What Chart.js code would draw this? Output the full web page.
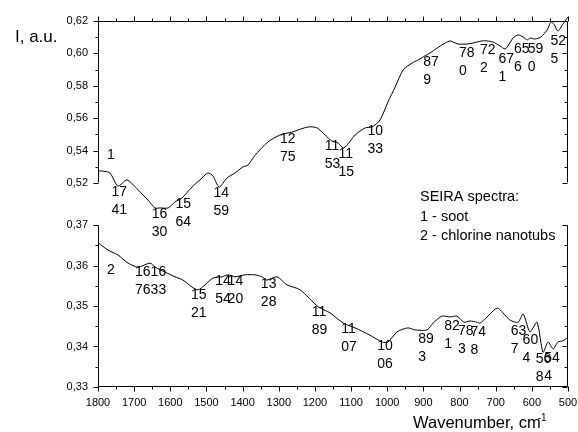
<!DOCTYPE html>
<html><head><meta charset="utf-8">
<script src="https://cdn.jsdelivr.net/npm/chart.js@4.4.0/dist/chart.umd.min.js"></script>
<style>
html,body{margin:0;padding:0;background:#fff;}
#wrap{position:relative;width:578px;height:432px;overflow:hidden;}
canvas{position:absolute;left:0;top:0;}
</style></head><body>
<div id="wrap"><canvas id="cTop" width="578" height="432"></canvas><canvas id="cBot" width="578" height="432"></canvas></div>
<script>
// ---- data ----
const topWave = [1800,1789,1767,1745,1720,1689,1662,1642,1628,1606,1587,1568,1540,1518,1496,1482,1465,1443,1421,1399,1385,1366,1330,1297,1263,1219,1194,1172,1153,1136,1122,1111,1089,1061,1042,1020,998,978,956,931,915,896,882,862,840,826,818,804,779,763,738,724,707,688,674,666,652,638,624,613,605,591,575,558,547,539,528,514,500];
const topVal = [0.5274,0.5274,0.5262,0.5181,0.5219,0.5157,0.5095,0.5046,0.5046,0.5046,0.5083,0.5107,0.5175,0.5219,0.5262,0.5243,0.5175,0.5231,0.5262,0.5299,0.5311,0.5370,0.5453,0.5496,0.5515,0.5546,0.5540,0.5496,0.5459,0.5447,0.5416,0.5435,0.5496,0.5540,0.5546,0.5589,0.5700,0.5793,0.5898,0.5941,0.5959,0.5984,0.6002,0.6033,0.6064,0.6077,0.6070,0.6058,0.6058,0.6064,0.6077,0.6077,0.6070,0.6046,0.6027,0.6046,0.6095,0.6114,0.6101,0.6083,0.6095,0.6089,0.6101,0.6144,0.6194,0.6181,0.6138,0.6181,0.6225];
const botWave = [1800,1772,1745,1717,1689,1656,1642,1615,1587,1565,1540,1523,1504,1482,1457,1440,1421,1393,1366,1346,1333,1305,1277,1241,1191,1158,1122,1089,1048,1014,998,973,943,923,890,873,849,826,807,788,771,752,743,724,696,680,660,638,624,605,586,569,555,541,528,514,500];
const botVal = [0.3656,0.3638,0.3626,0.3606,0.3596,0.3606,0.3596,0.3584,0.3572,0.3564,0.3547,0.3540,0.3552,0.3569,0.3572,0.3577,0.3572,0.3577,0.3577,0.3572,0.3564,0.3572,0.3552,0.3540,0.3498,0.3483,0.3458,0.3446,0.3428,0.3411,0.3411,0.3436,0.3446,0.3441,0.3441,0.3458,0.3475,0.3473,0.3475,0.3460,0.3463,0.3460,0.3458,0.3473,0.3495,0.3483,0.3465,0.3460,0.3480,0.3436,0.3460,0.3386,0.3411,0.3394,0.3411,0.3414,0.3423];

const xTickLabels = [1800,1700,1600,1500,1400,1300,1200,1100,1000,900,800,700,600,500];
const xMinorTicks = [1750,1650,1550,1450,1350,1250,1150,1050,950,850,750,650,550];
const topYTicks = [0.52,0.54,0.56,0.58,0.60,0.62];
const topYMinor = [0.53,0.55,0.57,0.59,0.61];
const botYTicks = [0.33,0.34,0.35,0.36,0.37];
const botYMinor = [0.335,0.345,0.355,0.365];

// peak labels: [line1, line2, wavenumber, intensity]
const topLabels = [
 ['1','',1764,0.5373],
 ['17','41',1741,0.5144],
 ['16','30',1630,0.5009],
 ['15','64',1564,0.5070],
 ['14','59',1459,0.5138],
 ['12','75',1275,0.5472],
 ['11','53',1153,0.5428],
 ['11','15',1115,0.5379],
 ['10','33',1033,0.5521],
 ['87','9',879,0.5947],
 ['78','0',780,0.6002],
 ['72','2',722,0.6021],
 ['67','1',671,0.5965],
 ['65','6',628,0.6027],
 ['59','0',590,0.6027],
 ['52','5',527,0.6077]
];
const botLabels = [
 ['2','',1764,0.3589],
 ['16','76',1676,0.3584],
 ['16','33',1633,0.3584],
 ['15','21',1521,0.3527],
 ['14','54',1454,0.3562],
 ['14','20',1420,0.3562],
 ['13','28',1328,0.3554],
 ['11','89',1189,0.3485],
 ['11','07',1107,0.3443],
 ['10','06',1006,0.3401],
 ['89','3',893,0.3419],
 ['82','1',821,0.3451],
 ['78','3',783,0.3438],
 ['74','8',748,0.3436],
 ['63','7',637,0.3438],
 ['60','4',604,0.3416],
 ['56','8',568,0.3369],
 ['54','4',544,0.3372]
];
const legendLines = ['SEIRA spectra:','1 - soot','2 - chlorine nanotubs'];
const yTitle = 'I, a.u.';
const xTitle = 'Wavenumber, cm';

// ---- drawing ----
const FAM = '"Liberation Sans", Arial, Helvetica, sans-serif';
const fmt = v => v.toFixed(2).replace('.', ',');

function framePlugin(cfg){
  return {id:'frame', afterDatasetsDraw(chart){
    const {ctx, chartArea:a, scales:{x,y}} = chart;
    ctx.save();
    ctx.strokeStyle='#000'; ctx.lineWidth=1;
    const L=Math.round(a.left)+0.5, R=Math.round(a.right)-0.5, T=Math.round(a.top)+0.5, B=Math.round(a.bottom)-0.5;
    ctx.beginPath();
    ctx.moveTo(L,T); ctx.lineTo(L,B);
    ctx.moveTo(R,T); ctx.lineTo(R,B);
    if(cfg.top){ ctx.moveTo(L,T); ctx.lineTo(R,T); }
    if(cfg.bottom){ ctx.moveTo(L,B); ctx.lineTo(R,B); }
    const yt=(vals,len)=>vals.forEach(v=>{const p=Math.round(y.getPixelForValue(v))+0.5; ctx.moveTo(L-len,p); ctx.lineTo(L,p); ctx.moveTo(R,p); ctx.lineTo(R-len,p);});
    yt(cfg.yMajor,5); yt(cfg.yMinor,3);
    const xt=(vals,len)=>vals.forEach(v=>{const p=Math.round(x.getPixelForValue(v))+0.5;
      if(cfg.top){ctx.moveTo(p,T); ctx.lineTo(p,T-len);}
      if(cfg.bottom){ctx.moveTo(p,B); ctx.lineTo(p,B+len);} });
    xt(xTickLabels,5); xt(xMinorTicks,3);
    ctx.stroke();
    ctx.restore();
  }};
}
function labelPlugin(list){
  return {id:'peaklabels', afterDatasetsDraw(chart){
    const {ctx, scales:{x,y}} = chart;
    ctx.save();
    ctx.fillStyle='#000'; ctx.font='14px '+FAM; ctx.textBaseline='middle'; ctx.textAlign='left';
    list.forEach(([t1,t2,w,v])=>{
      const cx=x.getPixelForValue(w), cy=y.getPixelForValue(v);
      const left=cx-ctx.measureText(t1).width/2;
      ctx.fillText(t1,left,cy);
      if(t2) ctx.fillText(t2,left,cy+18);
    });
    ctx.restore();
  }};
}
const textPlugin = {id:'texts', afterDraw(chart){
  const ctx=chart.ctx;
  ctx.save(); ctx.fillStyle='#000'; ctx.textAlign='left';
  ctx.textBaseline='middle';
  ctx.font='17px '+FAM; ctx.fillText(yTitle,15,37);
  ctx.font='14.5px '+FAM;
  legendLines.forEach((t,i)=>ctx.fillText(t,420,197+i*19.5));
  ctx.textBaseline='alphabetic';
  ctx.font='16.5px '+FAM; ctx.fillText(xTitle,413,428);
  const w=ctx.measureText(xTitle).width;
  ctx.font='10px '+FAM; ctx.fillText('-1',413+w-3,421);
  ctx.restore();
}};

function yScale(min,max,ticks){
  return {type:'linear',min,max,
    afterBuildTicks:s=>{s.ticks=ticks.map(v=>({value:v}));},
    afterFit:s=>{s.width=98; s.paddingTop=0; s.paddingBottom=0;},
    grid:{display:false,drawTicks:false}, border:{display:false},
    ticks:{padding:10,color:'#000',font:{family:FAM,size:11},callback:v=>fmt(v)}};
}
function ds(w,v){
  return {data:w.map((xx,i)=>({x:xx,y:v[i]})), borderColor:'#000', borderWidth:1, pointRadius:0, tension:0.25, fill:false, clip:false};
}
const common = {responsive:false, animation:false, events:[], plugins:{legend:{display:false},tooltip:{enabled:false}}};

new Chart(document.getElementById('cTop'),{
  type:'line',
  data:{datasets:[ds(topWave,topVal)]},
  options:Object.assign({},common,{
    layout:{padding:{left:0,right:10,top:21,bottom:432-183}},
    scales:{
      x:{type:'linear',min:500,max:1800,reverse:true,display:false},
      y:yScale(0.52,0.62,topYTicks)
    }}),
  plugins:[framePlugin({top:true,bottom:false,yMajor:topYTicks,yMinor:topYMinor}), labelPlugin(topLabels)]
});

new Chart(document.getElementById('cBot'),{
  type:'line',
  data:{datasets:[ds(botWave,botVal)]},
  options:Object.assign({},common,{
    layout:{padding:{left:0,right:10,top:225,bottom:0}},
    scales:{
      x:{type:'linear',min:500,max:1800,reverse:true,
        afterBuildTicks:s=>{s.ticks=xTickLabels.map(v=>({value:v}));},
        afterFit:s=>{s.height=45; s.paddingLeft=0; s.paddingRight=0;},
        grid:{display:false,drawTicks:false}, border:{display:false},
        ticks:{padding:9,color:'#000',autoSkip:false,maxRotation:0,font:{family:FAM,size:11},callback:v=>String(v)}},
      y:yScale(0.33,0.37,botYTicks)
    }}),
  plugins:[framePlugin({top:false,bottom:true,yMajor:botYTicks,yMinor:botYMinor}), labelPlugin(botLabels), textPlugin]
});
</script>
</body></html>
